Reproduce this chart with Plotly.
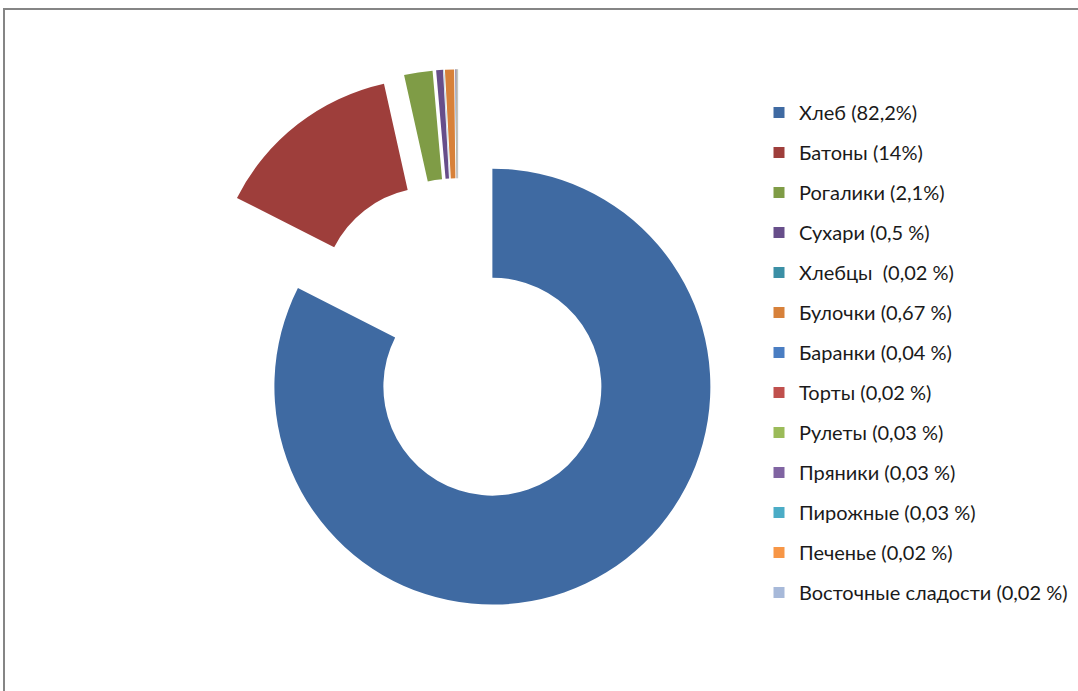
import plotly.graph_objects as go

# Bakery production structure, share of total output (%)
labels = ["Хлеб", "Батоны", "Рогалики", "Сухари", "Хлебцы ", "Булочки", "Баранки",
          "Торты", "Рулеты", "Пряники", "Пирожные", "Печенье", "Восточные сладости"]
shares = [82.2, 14, 2.1, 0.5, 0.02, 0.67, 0.04, 0.02, 0.03, 0.03, 0.03, 0.02, 0.02]
share_text = ["82,2%", "14%", "2,1%", "0,5 %", "0,02 %", "0,67 %", "0,04 %",
              "0,02 %", "0,03 %", "0,03 %", "0,03 %", "0,02 %", "0,02 %"]
colors = ["#3F6AA2", "#9E3E3B", "#7F9C46", "#674E8A", "#3B8FA5", "#D7813A", "#4A7DC2",
          "#C0504D", "#9BBB59", "#8064A2", "#4BACC6", "#F79646", "#A7B9D9"]
pulls = [0.3] + [0.2] * (len(shares) - 1)

W, H = 1078, 691

fig = go.Figure()
fig.add_trace(go.Pie(
    labels=labels,
    values=shares,
    sort=False,
    direction="clockwise",
    rotation=0,
    hole=0.5,
    pull=pulls,
    marker=dict(colors=colors, line=dict(width=0)),
    textinfo="none",
    hoverinfo="label+percent",
    showlegend=False,
    domain=dict(x=[0.125, 0.725], y=[0.111, 0.9312]),
))

# Legend entries, one group per category so the rows can be spaced apart
for name, txt, col in zip(labels, share_text, colors):
    fig.add_trace(go.Scatter(
        x=[None], y=[None], mode="markers",
        marker=dict(symbol="square", size=11, color=col, line=dict(width=0)),
        name=f"{name} ({txt})",
        legendgroup=name,
        hoverinfo="skip",
    ))

fig.update_layout(
    width=W, height=H,
    margin=dict(l=0, r=0, t=0, b=0, autoexpand=False),
    paper_bgcolor="white",
    plot_bgcolor="white",
    xaxis=dict(visible=False),
    yaxis=dict(visible=False),
    legend=dict(
        x=759 / W, xanchor="left",
        y=1 - 93 / H, yanchor="top",
        traceorder="grouped",
        tracegroupgap=11,
        font=dict(family="Lato", size=20, color="#1a1a1a"),
        bgcolor="rgba(0,0,0,0)",
        borderwidth=0,
    ),
    shapes=[dict(
        type="rect", xref="paper", yref="paper",
        x0=4 / W, x1=1.02, y0=-0.02, y1=1 - 9 / H,
        line=dict(color="#858585", width=2),
        fillcolor="rgba(0,0,0,0)", layer="below",
    )],
)

fig.write_html("out.html")
